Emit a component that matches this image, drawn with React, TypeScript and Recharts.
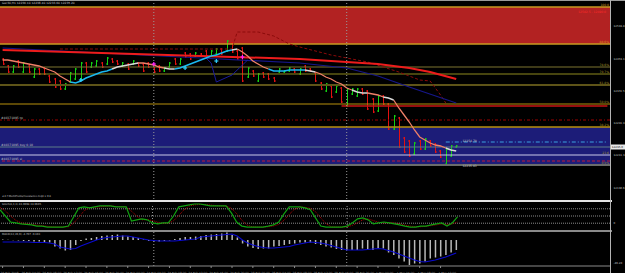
import React from 'react';
import { ComposedChart, Bar, Line, XAxis, YAxis, ReferenceLine, ReferenceArea, ReferenceDot } from 'recharts';

// ---------- price bars (H1) ----------
const barHigh = [12455,12437.5,12437.5,12450,12445,12437.5,12430,12430,12432.5,12412.5,
  12405,12400,12392.5,12420,12430,12445,12445,12445,12450,12445,
  12457.5,12455,12450,12445,12442.5,12450,12445,12442.5,12445,12432.5,
  12437.5,12432.5,12445,12455,12455,12470,12467.5,12470,12467.5,12475,
  12475,12480,12480,12500,12495,12475,12482.5,12432.5,12425,12417.5,
  12420,12417.5,12407.5,12430,12425,12432.5,12430,12430,12437.5,12430,
  12420,12395,12392.5,12387.5,12387.5,12382.5,12380,12380,12380,12380,
  12375,12355,12362.5,12362.5,12342.5,12312.5,12307.5,12257.5,12250,12245,
  12250,12255,12250,12242.5,12225,12230,12237.5,12237.5];
const barLow = [12437.5,12417.5,12417.5,12430,12417.5,12417.5,12405,12412.5,12412.5,12392.5,
  12380,12375,12375,12392.5,12400,12400,12417.5,12430,12432.5,12430,
  12437.5,12442.5,12437.5,12432.5,12425,12437.5,12432.5,12420,12430,12417.5,
  12420,12420,12430,12437.5,12437.5,12455,12450,12457.5,12457.5,12457.5,
  12457.5,12462.5,12462.5,12470,12467.5,12450,12395,12405,12407.5,12395,
  12405,12400,12395,12417.5,12417.5,12420,12417.5,12412.5,12420,12420,
  12395,12375,12370,12355,12367.5,12342.5,12332.5,12362.5,12357.5,12362.5,
  12325,12317.5,12320,12337.5,12275,12275,12230,12217.5,12207.5,12212.5,
  12225,12225,12232.5,12217.5,12205,12187.5,12207.5,12230];
const barOpen = [12452.5,12435,12420,12447.5,12420,12435,12407.5,12427.5,12430,12410,
  12402.5,12397.5,12377.5,12395,12402.5,12402.5,12442.5,12432.5,12435,12442.5,
  12440,12452.5,12447.5,12435,12440,12440,12442.5,12440,12442.5,12430,
  12435,12422.5,12432.5,12452.5,12440,12467.5,12465,12460,12465,12472.5,
  12460,12465,12477.5,12472.5,12492.5,12472.5,12480,12407.5,12422.5,12397.5,
  12417.5,12415,12405,12420,12420,12422.5,12427.5,12415,12435,12427.5,
  12417.5,12392.5,12372.5,12385,12370,12380,12335,12365,12360,12377.5,
  12372.5,12352.5,12322.5,12360,12340,12277.5,12305,12255,12247.5,12215,
  12247.5,12227.5,12247.5,12240,12222.5,12190,12210,12232.5];
const barClose = [12440,12420,12435,12432.5,12442.5,12420,12427.5,12415,12415,12395,
  12382.5,12377.5,12390,12417.5,12427.5,12442.5,12420,12442.5,12447.5,12432.5,
  12455,12445,12440,12442.5,12427.5,12447.5,12435,12422.5,12432.5,12420,
  12422.5,12430,12442.5,12440,12452.5,12457.5,12452.5,12467.5,12460,12460,
  12472.5,12477.5,12465,12497.5,12470,12452.5,12397.5,12430,12410,12415,
  12407.5,12402.5,12397.5,12427.5,12422.5,12430,12420,12427.5,12422.5,12422.5,
  12397.5,12377.5,12390,12357.5,12385,12345,12377.5,12377.5,12377.5,12365,
  12327.5,12320,12360,12340,12277.5,12310,12232.5,12220,12210,12242.5,
  12227.5,12252.5,12235,12220,12207.5,12227.5,12235,12235];

// ---------- fast colored MA ----------
const maFast = [12450,12450,12447.5,12445,12442.5,12440,12437.5,12435,12430,12425,
  12420,12410,12402.5,12395,12392.5,12397.5,12405,12410,12415,12420,
  12422.5,12427.5,12432.5,12435,12437.5,12440,12442.5,12442.5,12440,12437.5,
  12432.5,12430,12427.5,12427.5,12430,12435,12440,12445,12450,12455,
  12460,12462.5,12467.5,12472.5,12475,12477.5,12470,12460,12447.5,12440,
  12432.5,12427.5,12422.5,12422.5,12422.5,12425,12425,12425,12425,12422.5,
  12420,12415,12407.5,12402.5,12395,12390,12380,12375,12370,12367.5,
  12367.5,12365,12362.5,12357.5,12355,12350,12330,12312.5,12295,12275,
  12257.5,12250,12242.5,12237.5,12235,12230,12225,12222.5];
// trend state runs of the MA: d = falling, u = rising, f = flat
const maTrendRuns: [string, number][] = [['d',14],['u',8],['f',5],['d',5],['f',2],['u',11],['f',1],['d',6],['u',7],['f',2],['d',7],['f',3],['d',3],['f',2],['d',10],['f',2]];

// ---------- other main-window lines (index, price) ----------
const redMaPoints = [[0,12475],[19,12467.5],[38,12460],[57,12452.5],[66,12445],[72,12440],[78,12430],[82,12420],[87,12402.5]];
const navyMaPoints = [[0,12480],[19,12467.5],[38,12455],[57,12442.5],[66,12430],[72,12410],[78,12382.5],[87,12342.5]];
const upperBandPoints = [[11,12477.5],[44,12477.5],[45,12520],[49,12520],[52,12510],[55,12490],[57,12482.5],[63,12462.5],[70,12445],[76,12420],[80,12400],[82,12397.5],[84,12362.5],[85,12342.5]];
const lowerBandPoints = [[39,12455],[40,12442.5],[41,12395],[44,12412.5],[47,12450]];
const buyMarks = [[15,12400],[35,12430],[41,12447.5]];
const sellMarks = [[29,12440],[46,12457.5]];

// ---------- levels ----------
const supplyZone = [12490, 12582.5];
const demandZone = [12187.5, 12282.5];
const fibLevels = [12582.5, 12490, 12432.5, 12415, 12387.5, 12340, 12282.5, 12212.5, 12187.5];
const fibLabels = ['100.0', '88.6%', '78.6%', '70.7%', '61.8%', '50.0%', '38.2%', '23.6', '0.0%'];
const resistanceLevel = 12335;
const tpLevel = 12300;
const openLevel = 12232.5;
const slLevel = 12197.5;
const askLevel = 12245;
const bidPrice = 12235.0;
const priceTicks = [12587.5,12560.6,12533.8,12506.9,12480.0,12453.1,12426.3,12399.4,12372.5,12345.6,12318.8,12291.9,12265.0,12238.1,12211.3,12184.4,12157.5,12130.6];
const separatorIdx = [29, 66];

// ---------- stochastic ----------
const stochMain = [76,50,25,21,17,15,13,8,8,4, 4,4,4,8,46,84,88,84,88,92, 92,92,88,88,88,29,34,38,34,21,
  17,21,21,50,88,92,96,100,100,96, 92,92,92,92,63,25,8,4,4,4, 4,8,13,25,59,88,88,88,84,76,
  42,8,4,4,4,4,8,21,38,42, 34,17,21,25,21,17,13,8,4,4, 8,8,13,17,21,8,21,46];
const stochSignal = [85,72,50,32,21,18,15,12,10,7, 5,4,4,5,20,45,72,85,86,88, 90,92,90,89,88,70,50,34,35,31,
  24,19,20,30,52,76,92,96,98,98, 96,93,92,92,82,60,32,12,5,4, 4,5,8,15,32,57,78,88,86,82,
  68,42,18,5,4,4,5,11,22,34, 38,31,24,21,22,21,17,12,8,5, 5,7,10,13,17,15,17,25];
const stochLevels = [80, 50, 20];

// ---------- MACD ----------
const macdHist = [1,0.5,-0.5,-1,-2,-2,-3,-3,-4,-5, -13,-17,-21,-20,-10,-2,3,4,6,8, 9,10,11,9,7,6,4,1,-2,-3,
  -3,-2,-1,2,4,6,6,7,8,10, 11,12,13,15,10,5,-7,-13,-16,-18, -17,-17,-13,-12,-10,-8,-7,-5,-5,-5,
  -8,-10,-13,-15,-18,-20,-20,-20,-20,-17, -19,-20,-17,-17,-25,-30,-37,-43,-50,-47, -47,-43,-37,-35,-33,-30,-25,-20];
const macdSignal = [-4,-4,-4,-4,-4,-4,-5,-5,-5,-6, -8,-14,-16,-18,-17,-12,-8,-4,0,3, 5,6,7,8,8,6,4,2,0,-1,
  -2,-2,-2,-2,-1,0,1,2,6,7, 8,9,10,11,12,8,0,-6,-10,-13, -15,-16,-16,-15,-14,-13,-10,-8,-6,-4,
  -5,-6,-8,-11,-14,-17,-20,-20,-20,-20, -19,-18,-17,-18,-21,-24,-28,-32,-36,-40, -43,-44,-42,-40,-37,-34,-30,-26];
const macdTicks = [14.4, 0, -46.2];

// ---------- time axis ----------
const timeLabelIdx = [0,4,8,12,16,20,24,28,32,36,40,44,48,52,56,60,64,68,72,76,80,84];
const timeLabels = ['26 Feb 2018','26 Feb 04:00','26 Feb 08:00','26 Feb 12:00','26 Feb 16:00','26 Feb 20:00','27 Feb 00:00','27 Feb 04:00','27 Feb 08:00','27 Feb 12:00','27 Feb 16:00','27 Feb 20:00','28 Feb 00:00','28 Feb 04:00','28 Feb 08:00','28 Feb 12:00','28 Feb 16:00','28 Feb 20:00','1 Mar 00:00','1 Mar 04:00','1 Mar 08:00','1 Mar 12:00'];

const SLOTS = 117;
const FONT = 'DejaVu Sans';

const trend: string[] = [];
maTrendRuns.forEach(([k, n]) => { for (let j = 0; j < n; j++) trend.push(k); });
const toMap = (pts: number[][]) => new Map(pts.map(([i, v]) => [i, v]));
const redMap = toMap(redMaPoints), navyMap = toMap(navyMaPoints), upMap = toMap(upperBandPoints), loMap = toMap(lowerBandPoints);
const timeMap = new Map(timeLabelIdx.map((i, k) => [i, timeLabels[k]]));

const rows = Array.from({ length: SLOTS }, (_, k) => {
  const has = k < barHigh.length;
  const ma = has ? maFast[k] : null;
  const seg = (key: string) => (has && (trend[k] === key || trend[k + 1] === key) ? ma : null);
  return {
    idx: k,
    hl: has ? [barLow[k], barHigh[k]] : null,
    h: has ? barHigh[k] : null,
    l: has ? barLow[k] : null,
    o: has ? barOpen[k] : null,
    c: has ? barClose[k] : null,
    maDown: seg('d'), maUp: seg('u'), maFlat: seg('f'),
    red: redMap.has(k) ? redMap.get(k) : null,
    navy: navyMap.has(k) ? navyMap.get(k) : null,
    upper: upMap.has(k) ? upMap.get(k) : null,
    lower: loMap.has(k) ? loMap.get(k) : null,
    stK: has ? stochMain[k] : null,
    stD: has ? stochSignal[k] : null,
    mh: has ? macdHist[k] : null,
    ms: has ? macdSignal[k] : null,
  };
});

const OhlcShape = (props: any) => {
  const { x, y, width, height, payload } = props;
  if (!payload || payload.o == null || x == null) return null;
  const top = Math.min(y, y + height);
  const bot = Math.max(y, y + height);
  const span = payload.h - payload.l || 1;
  const yo = top + ((payload.h - payload.o) / span) * (bot - top);
  const yc = top + ((payload.h - payload.c) / span) * (bot - top);
  const cx = Math.round(x + width / 2) + 0.5;
  const col = payload.c >= payload.o ? '#12d212' : '#e41010';
  return (
    <g stroke={col} strokeWidth={1}>
      <line x1={cx} x2={cx} y1={top} y2={Math.max(bot, top + 1)} />
      <line x1={cx - 1.5} x2={cx} y1={yo} y2={yo} />
      <line x1={cx} x2={cx + 1.5} y1={yc} y2={yc} />
    </g>
  );
};

const Cross = (color: string) => (p: any) => (
  <g stroke={color} strokeWidth={1.2}>
    <line x1={p.cx - 2} x2={p.cx + 2} y1={p.cy} y2={p.cy} />
    <line x1={p.cx} x2={p.cx} y1={p.cy - 2} y2={p.cy + 2} />
  </g>
);

const AxisTick = (fmt: (v: number) => string) => (p: any) => (
  <text x={p.x + 1.5} y={p.y + 1} fill="#c8c8c8" fontSize={2.7} fontFamily={FONT}>{fmt(p.payload.value)}</text>
);

const TimeTick = (p: any) => (
  <text x={p.x - 2} y={p.y + 3.5} fill="#a8a8a8" fontSize={2.9} fontFamily={FONT}>{timeMap.get(p.payload.value) || ''}</text>
);

const PriceBox = (p: any) => {
  const vb = p.viewBox || {};
  const x0 = (vb.x || 0) + (vb.width || 0) + 1;
  return (
    <g>
      <rect x={x0} y={vb.y - 2.5} width={14} height={5} fill="#e8e8e8" />
      <text x={x0 + 0.8} y={vb.y + 1.1} fill="#000" fontSize={2.7} fontFamily={FONT}>{bidPrice.toFixed(1)}</text>
    </g>
  );
};

const fibColors = ['#c89a20', '#c89a20', '#7c7430', '#8e8a1e', '#5e5418', '#b8900c', '#b8900c', '#c8c8e8', '#6a6a6a'];
const fibWidths = [1.5, 1.5, 1, 1, 2, 1, 1.5, 1.2, 2];
const small = (v: string, fill: string, position: any, extra: any = {}) => ({ value: v, position, fill, fontSize: 3, fontFamily: FONT, offset: 1, ...extra });

const P_MIN = 12102.5, P_MAX = 12595;

export default function App() {
  return (
    <div style={{ position: 'absolute', left: 0, top: 0, width: 625, height: 273, background: '#000', overflow: 'hidden', fontFamily: FONT }}>
      <div style={{ position: 'absolute', left: 0, top: 0 }}>
        <ComposedChart width={625} height={200} data={rows} margin={{ top: 2, right: 0, bottom: 1, left: 0 }}>
          <XAxis dataKey="idx" type="category" hide />
          <YAxis orientation="right" width={15} type="number" domain={[P_MIN, P_MAX]} ticks={priceTicks} allowDataOverflow
            axisLine={false} tickLine={false} tickSize={0} tick={AxisTick((v) => v.toFixed(1))} />
          <ReferenceArea y1={supplyZone[0]} y2={supplyZone[1]} fill="#b22222" fillOpacity={1} stroke="none"
            label={small('12582.5 - 12490.0', '#ff2a2a', 'insideTopRight', { offset: 4 })} />
          <ReferenceArea y1={demandZone[0]} y2={demandZone[1]} fill="#1c1c78" fillOpacity={1} stroke="none" />
          {fibLevels.map((v, i) => (
            <ReferenceLine key={'f' + i} y={v} stroke={fibColors[i]} strokeWidth={fibWidths[i]}
              label={small(fibLabels[i], i < 2 ? '#d89a20' : '#a89a28', 'insideBottomRight')} />
          ))}
          <ReferenceLine segment={[{ x: 65, y: resistanceLevel }, { x: 116, y: resistanceLevel }]} stroke="#c81414" strokeWidth={1.5} />
          <ReferenceLine y={tpLevel} stroke="#a00000" strokeDasharray="3 2 1 2" label={small('#40371095 tp', '#c0c0c0', 'insideBottomLeft')} />
          <ReferenceLine y={openLevel} stroke="#5c7c88" strokeWidth={1.2} label={small('#40371095 buy 0.10', '#c0c0c0', 'insideBottomLeft')} />
          <ReferenceLine y={openLevel} stroke="none" label={<PriceBox />} />
          <ReferenceLine y={slLevel} stroke="#c01838" strokeDasharray="3 2" label={small('#40371095 sl', '#c0c0c0', 'insideBottomLeft')} />
          <ReferenceLine segment={[{ x: 85, y: askLevel }, { x: 116, y: askLevel }]} stroke="#3aa0e0" strokeDasharray="4 2 1 2" />
          <ReferenceDot x={88} y={12247} r={0} stroke="none" label={small('12254.70', '#c8c8c8', 'right')} />
          <ReferenceDot x={88} y={12185} r={0} stroke="none" label={small('12235.83', '#c8c8c8', 'right')} />
          {separatorIdx.map((x) => (
            <ReferenceLine key={'s' + x} x={x} stroke="#9a9a9a" strokeDasharray="1 2" />
          ))}
          <Line dataKey="upper" stroke="#8b0a0a" strokeWidth={1} strokeDasharray="3 2" dot={false} connectNulls isAnimationActive={false} />
          <Line dataKey="navy" stroke="#16168a" strokeWidth={1.2} dot={false} connectNulls isAnimationActive={false} />
          <Line dataKey="lower" stroke="#1a1a9a" strokeWidth={1} dot={false} connectNulls isAnimationActive={false} />
          <Line dataKey="red" stroke="#ee1c1c" strokeWidth={2} dot={false} connectNulls isAnimationActive={false} />
          <Bar dataKey="hl" barSize={3} shape={OhlcShape} isAnimationActive={false} />
          <Line dataKey="maDown" stroke="#f08068" strokeWidth={1.3} dot={false} isAnimationActive={false} />
          <Line dataKey="maUp" stroke="#1ab8f0" strokeWidth={1.5} dot={false} isAnimationActive={false} />
          <Line dataKey="maFlat" stroke="#d8d8d8" strokeWidth={1.5} dot={false} isAnimationActive={false} />
          {buyMarks.map(([x, y], i) => (
            <ReferenceDot key={'b' + i} x={x} y={y} r={2} shape={Cross('#30d0ff')} />
          ))}
          {sellMarks.map(([x, y], i) => (
            <ReferenceDot key={'m' + i} x={x} y={y} r={2} shape={Cross('#ff20ff')} />
          ))}
        </ComposedChart>
      </div>

      <div style={{ position: 'absolute', left: 0, top: 201 }}>
        <ComposedChart width={625} height={31} data={rows} margin={{ top: 3, right: 0, bottom: 4, left: 0 }}>
          <XAxis dataKey="idx" type="category" hide />
          <YAxis orientation="right" width={15} type="number" domain={[0, 100]} ticks={[100, 80, 50, 20, 0]}
            axisLine={false} tickLine={false} tickSize={0} tick={AxisTick((v) => String(v))} />
          {stochLevels.map((v) => (
            <ReferenceLine key={v} y={v} stroke="#8a8a8a" strokeDasharray="1 1" />
          ))}
          {separatorIdx.map((x) => (
            <ReferenceLine key={'s' + x} x={x} stroke="#9a9a9a" strokeDasharray="1 2" />
          ))}
          <Line dataKey="stD" stroke="#b00000" strokeWidth={1} strokeDasharray="1 1" dot={false} isAnimationActive={false} />
          <Line dataKey="stK" stroke="#10a010" strokeWidth={1.2} dot={false} isAnimationActive={false} />
        </ComposedChart>
      </div>

      <div style={{ position: 'absolute', left: 0, top: 232 }}>
        <ComposedChart width={625} height={41} data={rows} margin={{ top: 0, right: 0, bottom: 0, left: 0 }}>
          <XAxis dataKey="idx" type="category" height={7} ticks={timeLabelIdx} interval={0}
            axisLine={{ stroke: '#8a8a8a' }} tickLine={{ stroke: '#8a8a8a' }} tickSize={2} tick={TimeTick} />
          <YAxis orientation="right" width={15} type="number" domain={[-52, 16]} ticks={macdTicks}
            axisLine={false} tickLine={false} tickSize={0} tick={AxisTick((v) => v.toFixed(2))} />
          {separatorIdx.map((x) => (
            <ReferenceLine key={'s' + x} x={x} stroke="#9a9a9a" strokeDasharray="1 2" />
          ))}
          <Bar dataKey="mh" barSize={1.5} fill="#b8b8b8" isAnimationActive={false} />
          <Line dataKey="ms" stroke="#0a0ad0" strokeWidth={1.2} dot={false} isAnimationActive={false} />
        </ComposedChart>
      </div>

      <div style={{ position: 'absolute', left: 0, top: 0, width: 625, height: 1, background: '#9a9a9a' }} />
      <div style={{ position: 'absolute', left: 0, top: 200, width: 612, height: 2, background: '#e6e6e6' }} />
      <div style={{ position: 'absolute', left: 0, top: 230, width: 612, height: 2, background: '#8a8a8a' }} />
      <div style={{ position: 'absolute', left: 610, top: 0, width: 1, height: 273, background: '#b4b4b4' }} />
      <div style={{ position: 'absolute', left: 2, top: 1.8, fontSize: 2.9, color: '#c8c8c8', whiteSpace: 'nowrap', lineHeight: 1 }}>
        Ger30,H1  12236.10 12238.40 12233.60 12235.20
      </div>
      <div style={{ position: 'absolute', left: 2, top: 195.8, fontSize: 2.6, color: '#c0c0c0', whiteSpace: 'nowrap', lineHeight: 1 }}>
        #4 F:MultiPivots/resistance.mq4 x 0.8
      </div>
      <div style={{ position: 'absolute', left: 2, top: 203.8, fontSize: 2.6, color: '#c0c0c0', whiteSpace: 'nowrap', lineHeight: 1 }}>
        Stoch(8,3,3) 41.0098 34.0605
      </div>
      <div style={{ position: 'absolute', left: 2, top: 233.8, fontSize: 2.6, color: '#c0c0c0', whiteSpace: 'nowrap', lineHeight: 1 }}>
        MACD(12,26,9) -4.707 -9.303
      </div>
    </div>
  );
}
